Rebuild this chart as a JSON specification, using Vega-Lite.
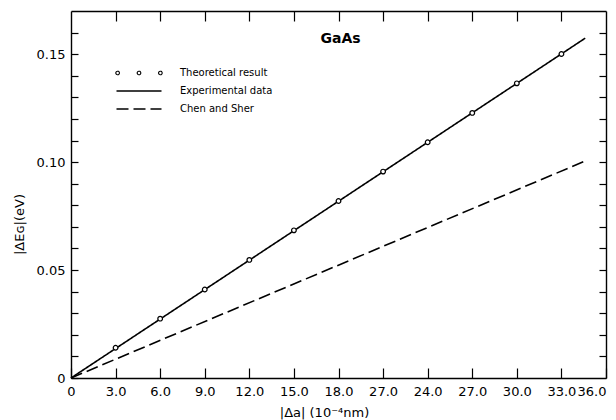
{
  "$schema": "https://vega.github.io/schema/vega-lite/v6.json",
  "width": 535,
  "height": 367,
  "autosize": {"type": "none"},
  "padding": {"left": 71, "top": 11, "right": 10, "bottom": 42},
  "background": "white",
  "title": {
    "text": "GaAs",
    "anchor": "middle",
    "frame": "group",
    "orient": "top",
    "offset": 0,
    "dx": 2,
    "dy": 47,
    "baseline": "alphabetic",
    "font": "DejaVu Sans",
    "fontSize": 14,
    "fontWeight": "bold",
    "color": "black"
  },
  "config": {
    "view": {"stroke": null},
    "axis": {
      "grid": false,
      "domainColor": "black",
      "domainWidth": 1.4,
      "tickColor": "black",
      "tickWidth": 1.2,
      "labelColor": "black",
      "labelFont": "DejaVu Sans",
      "labelFontSize": 13,
      "labelOverlap": false,
      "titleFont": "DejaVu Sans",
      "titleFontSize": 13,
      "titleFontWeight": "normal",
      "titleColor": "black"
    },
    "legend": {
      "labelFont": "DejaVu Sans",
      "labelFontSize": 10,
      "labelColor": "black"
    }
  },
  "datasets": {
    "pts": [
      {"x": 3, "y": 0.0140},
      {"x": 6, "y": 0.0275},
      {"x": 9, "y": 0.0410},
      {"x": 12, "y": 0.0547},
      {"x": 15, "y": 0.0684},
      {"x": 18, "y": 0.0820},
      {"x": 21, "y": 0.0956},
      {"x": 24, "y": 0.1092},
      {"x": 27, "y": 0.1228},
      {"x": 30, "y": 0.1365},
      {"x": 33, "y": 0.1501}
    ],
    "lines": [
      {"series": "Experimental data", "x": 0, "y": 0},
      {"series": "Experimental data", "x": 34.6, "y": 0.1574},
      {"series": "Chen and Sher", "x": 0, "y": 0},
      {"series": "Chen and Sher", "x": 34.6, "y": 0.1005}
    ]
  },
  "resolve": {"axis": {"x": "independent", "y": "independent"}},
  "layer": [
    {
      "data": {"name": "lines"},
      "mark": {"type": "line", "color": "black", "strokeWidth": 1.6},
      "encoding": {
        "x": {
          "field": "x",
          "type": "quantitative",
          "scale": {"domain": [0, 36], "nice": false, "zero": true},
          "axis": {
            "orient": "bottom",
            "values": [0, 3, 6, 9, 12, 15, 18, 21, 24, 27, 30, 33, 36],
            "labelExpr": "datum.value == 0 ? '0' : (datum.value == 21 ? '27.0' : format(datum.value, '.1f'))",
            "labelFlush": false,
            "labelAlign": {"condition": {"test": "datum.value == 36", "value": "right"}, "value": "center"},
            "tickSize": -10,
            "labelPadding": 17,
            "title": "|Δa| (10⁻⁴nm)",
            "titleX": 253,
            "titleY": 38,
            "titleAlign": "center",
            "titleBaseline": "alphabetic"
          }
        },
        "y": {
          "field": "y",
          "type": "quantitative",
          "scale": {"domain": [0, 0.17], "nice": false},
          "axis": {
            "orient": "left",
            "values": [0, 0.01, 0.02, 0.03, 0.04, 0.05, 0.06, 0.07, 0.08, 0.09, 0.1, 0.11, 0.12, 0.13, 0.14, 0.15, 0.16],
            "labelExpr": "round(datum.value*100) % 5 == 0 ? (datum.value == 0 ? '0' : format(datum.value, '.2f')) : ''",
            "tickSize": -7,
            "labelPadding": 13,
            "labelAlign": "right",
            "labelFlush": false,
            "encode": {
              "ticks": {
                "update": {
                  "x2": {"signal": "round(datum.value*100) % 5 == 0 ? 12 : 7"}
                }
              }
            },
            "title": "|ΔEɢ|(eV)",
            "titleAngle": 270,
            "titleX": -48,
            "titleY": 213,
            "titleAlign": "center",
            "titleBaseline": "alphabetic"
          }
        },
        "strokeDash": {
          "field": "series",
          "type": "nominal",
          "scale": {
            "domain": ["Theoretical result", "Experimental data", "Chen and Sher"],
            "range": [[1, 0], [1, 0], [12, 5]]
          },
          "legend": {
            "title": null,
            "orient": "none",
            "legendX": 63,
            "legendY": 57,
            "padding": 0,
            "symbolSize": 2025,
            "symbolStrokeColor": "black",
            "symbolStrokeWidth": 1.5,
            "labelOffset": 36,
            "rowPadding": 8,
            "encode": {
              "symbols": {
                "update": {
                  "shape": {"signal": "datum.value === 'Theoretical result' ? 'M-0.87,0A0.08,0.08,0,1,1,-1.03,0A0.08,0.08,0,1,1,-0.87,0ZM0.08,0A0.08,0.08,0,1,1,-0.08,0A0.08,0.08,0,1,1,0.08,0ZM1.03,0A0.08,0.08,0,1,1,0.87,0A0.08,0.08,0,1,1,1.03,0Z' : 'M-1,0L1,0'"},
                  "size": {"value": 2025},
                  "stroke": {"value": "black"},
                  "strokeOpacity": {"value": 1},
                  "opacity": {"value": 1},
                  "fill": {"value": "white"},
                  "strokeDash": {"signal": "datum.value === 'Chen and Sher' ? [12, 4] : [1, 0]"},
                  "strokeWidth": {"signal": "datum.value === 'Theoretical result' ? 1.1 : 1.5"}
                }
              }
            }
          }
        }
      }
    },
    {
      "data": {"name": "pts"},
      "mark": {"type": "point", "shape": "circle", "filled": true, "fill": "white", "stroke": "black", "strokeWidth": 1.2, "size": 22, "opacity": 1},
      "encoding": {
        "x": {
          "field": "x",
          "type": "quantitative",
          "axis": {
            "orient": "top",
            "values": [3, 6, 9, 12, 15, 18, 21, 24, 27, 30, 33],
            "labels": false,
            "tickSize": -10,
            "title": null
          }
        },
        "y": {
          "field": "y",
          "type": "quantitative",
          "axis": {
            "orient": "right",
            "values": [0.01, 0.02, 0.03, 0.04, 0.05, 0.06, 0.07, 0.08, 0.09, 0.1, 0.11, 0.12, 0.13, 0.14, 0.15, 0.16],
            "labels": false,
            "tickSize": -7,
            "encode": {
              "ticks": {
                "update": {
                  "x2": {"signal": "round(datum.value*100) % 5 == 0 ? -12 : -7"}
                }
              }
            },
            "title": null
          }
        }
      }
    }
  ]
}
